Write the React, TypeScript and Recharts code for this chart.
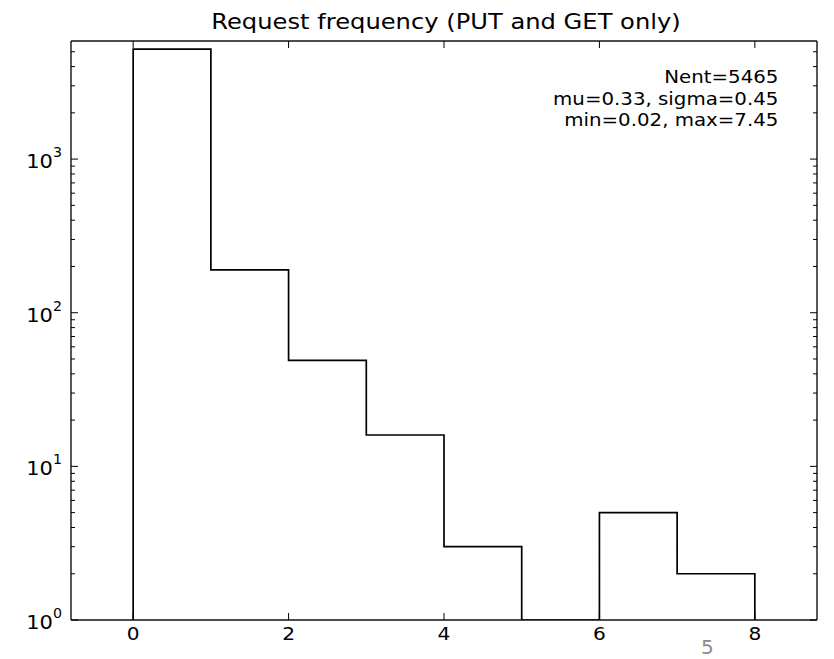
import React from "react";
import { LineChart, Line, XAxis, YAxis } from "recharts";

// histogram bins (left edges) and counts per bin
const binEdges = [0, 1, 2, 3, 4, 5, 6, 7, 8];
const counts = [5200, 190, 49, 16, 3, 0, 5, 2];

const xTicks = [0, 2, 4, 6, 8];
const yMajor = [1, 10, 100, 1000];
const yMinor = [2, 3, 4, 5, 6, 7, 8, 9, 20, 30, 40, 50, 60, 70, 80, 90, 200, 300, 400, 500, 600, 700, 800, 900, 2000, 3000, 4000, 5000];
const yTicks = [...yMajor, ...yMinor];

const statLines = ["Nent=5465", "mu=0.33, sigma=0.45", "min=0.02, max=7.45"];

const FLOOR = 1; // log axis bottom, empty bins are clipped there

// step outline: start at floor, each bin top, back to floor at the last edge
const stepData = [
  { x: binEdges[0], y: FLOOR },
  ...counts.map((c, i) => ({ x: binEdges[i], y: Math.max(c, FLOOR) })),
  { x: binEdges[binEdges.length - 1], y: Math.max(counts[counts.length - 1], FLOOR) },
  { x: binEdges[binEdges.length - 1], y: FLOOR },
];

const FONT = "'DejaVu Sans', sans-serif";
const MAJOR = 7;
const MINOR = 4;
const STRETCH = 1.12; // the reference picture is a little wider than tall

const BottomTick = (props: any) => {
  const { x, y, payload } = props;
  return (
    <g>
      <line x1={x} x2={x} y1={y} y2={y - MAJOR} stroke="#000" strokeWidth={1} />
      <text
        transform={`translate(${x},${y + 20}) scale(${STRETCH},1)`}
        textAnchor="middle"
        style={{ fontSize: 18, fontFamily: FONT, fill: "#000" }}
      >
        {payload.value}
      </text>
    </g>
  );
};

const TopTick = (props: any) => {
  const { x, y } = props;
  return <line x1={x} x2={x} y1={y} y2={y + MAJOR} stroke="#000" strokeWidth={1} />;
};

const LeftTick = (props: any) => {
  const { x, y, payload } = props;
  const v = payload.value;
  const major = yMajor.includes(v);
  return (
    <g>
      <line x1={x} x2={x + (major ? MAJOR : MINOR)} y1={y} y2={y} stroke="#000" strokeWidth={1} />
      {major && (
        <text
          transform={`translate(${x - 9},${y + 9}) scale(1.05,1)`}
          textAnchor="end"
          style={{ fontSize: 20, fontFamily: FONT, fill: "#000" }}
        >
          10
          <tspan dy={-11} style={{ fontSize: 13.5 }}>
            {Math.round(Math.log10(v))}
          </tspan>
        </text>
      )}
    </g>
  );
};

const RightTick = (props: any) => {
  const { x, y, payload } = props;
  const major = yMajor.includes(payload.value);
  return <line x1={x} x2={x - (major ? MAJOR : MINOR)} y1={y} y2={y} stroke="#000" strokeWidth={1} />;
};

const axisLine = { stroke: "#111", strokeWidth: 1.4 };

export default function App() {
  return (
    <div style={{ position: "absolute", left: 0, top: 0, width: 834, height: 659, background: "#fff", fontFamily: FONT }}>
      <div
        style={{
          position: "absolute",
          left: 446,
          top: 10,
          fontSize: 20.5,
          color: "#000",
          whiteSpace: "nowrap",
          transform: "scaleX(1.18) translateX(-50%)",
          transformOrigin: "0 0",
        }}
      >
        Request frequency (PUT and GET only)
      </div>
      <LineChart width={834} height={659} data={stepData} margin={{ top: 40, right: 16, bottom: 38, left: 70 }}>
        <XAxis
          xAxisId="b"
          type="number"
          dataKey="x"
          domain={[-0.8, 8.8]}
          ticks={xTicks}
          interval={0}
          height={1}
          tickSize={0}
          tickMargin={0}
          tickLine={false}
          tick={<BottomTick />}
          axisLine={axisLine}
          allowDataOverflow
        />
        <XAxis
          xAxisId="t"
          orientation="top"
          type="number"
          dataKey="x"
          domain={[-0.8, 8.8]}
          ticks={xTicks}
          interval={0}
          height={1}
          tickSize={0}
          tickMargin={0}
          tickLine={false}
          tick={<TopTick />}
          axisLine={axisLine}
          allowDataOverflow
        />
        <YAxis
          yAxisId="l"
          type="number"
          scale="log"
          dataKey="y"
          domain={[1, 5870]}
          ticks={yTicks}
          interval={0}
          width={1}
          tickSize={0}
          tickMargin={0}
          tickLine={false}
          tick={<LeftTick />}
          axisLine={axisLine}
          allowDataOverflow
        />
        <YAxis
          yAxisId="r"
          orientation="right"
          type="number"
          scale="log"
          dataKey="y"
          domain={[1, 5870]}
          ticks={yTicks}
          interval={0}
          width={1}
          tickSize={0}
          tickMargin={0}
          tickLine={false}
          tick={<RightTick />}
          axisLine={axisLine}
          allowDataOverflow
        />
        <Line
          xAxisId="t"
          yAxisId="r"
          dataKey="y"
          type="stepAfter"
          stroke="none"
          dot={false}
          activeDot={false}
          isAnimationActive={false}
        />
        <Line
          xAxisId="b"
          yAxisId="l"
          dataKey="y"
          type="stepAfter"
          stroke="#000"
          strokeWidth={1.7}
          dot={false}
          activeDot={false}
          isAnimationActive={false}
        />
      </LineChart>
      <div
        style={{
          position: "absolute",
          right: 56,
          top: 67,
          textAlign: "right",
          fontSize: 17.5,
          lineHeight: "21.5px",
          color: "#000",
          whiteSpace: "nowrap",
          transform: "scaleX(1.13)",
          transformOrigin: "100% 0",
        }}
      >
        {statLines.map((s) => (
          <div key={s}>{s}</div>
        ))}
      </div>
      <div style={{ position: "absolute", left: 701, top: 635, fontSize: 20, color: "#8a8a8a" }}>5</div>
    </div>
  );
}
